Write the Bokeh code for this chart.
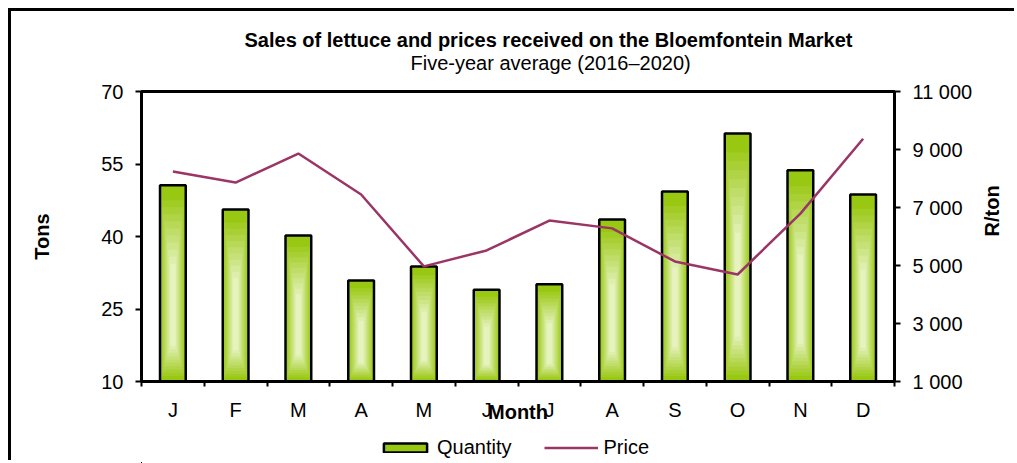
import math
from bokeh.plotting import figure
from bokeh.layouts import column
from bokeh.models import (Range1d, LinearAxis, FixedTicker, Legend, LegendItem, Title)
from bokeh.embed import file_html
from bokeh.resources import INLINE

# ---- data ----
months = ["J", "F", "M", "A", "M", "J", "J", "A", "S", "O", "N", "D"]
quantity = [50.6, 45.6, 40.2, 30.9, 33.8, 29.0, 30.1, 43.5, 49.3, 61.3, 53.7, 48.7]
price = [8240, 7860, 8860, 7450, 4970, 5520, 6550, 6280, 5140, 4690, 6790, 9370]
tons_ticks = [10, 25, 40, 55, 70]
price_ticks = [1000, 3000, 5000, 7000, 9000, 11000]

FONT = "Liberation Sans"
FS = "20px"
W = 1006
H_MAIN = 422
H_LEG = 30
BAR_W = 0.41
YMIN = 10
BAR_COLOR = "#99c812"
LINE_COLOR = "#9b3566"

xs = [i + 0.5 for i in range(len(months))]

p = figure(width=W, height=H_MAIN, x_range=Range1d(0, 12), y_range=Range1d(YMIN, 70),
           output_backend="svg", toolbar_location=None, title=None,
           min_border_left=130, min_border_right=120, min_border_top=80, min_border_bottom=52)
p.background_fill_color = "white"
p.border_fill_color = "white"
p.xgrid.visible = False
p.ygrid.visible = False
p.outline_line_color = "black"
p.outline_line_width = 3

# ---- titles ----
sub = Title(text="Five-year average (2016\u20132020)", align="left", offset=269,
            text_font=FONT, text_font_size=FS, text_font_style="normal",
            text_color="black", standoff=36)
main = Title(text="Sales of lettuce and prices received on the Bloemfontein Market",
             align="left", offset=103, text_font=FONT, text_font_size=FS,
             text_font_style="bold", text_color="black", standoff=-38)
p.add_layout(sub, "above")
p.add_layout(main, "above")

# ---- bars with simulated gradient ----
p.vbar(x=xs, top=quantity, bottom=YMIN, width=BAR_W, fill_color=BAR_COLOR, line_color=None)
K = 10
c0 = (153, 200, 18)
c1 = (230, 243, 190)
for k in range(1, K + 1):
    f = k / K
    col = "#%02x%02x%02x" % tuple(int(c0[i] + (c1[i] - c0[i]) * f) for i in range(3))
    tops = [q - (q - YMIN) * (0.04 + 0.36 * f) for q in quantity]
    bots = [YMIN + (q - YMIN) * (0.01 + 0.17 * f) for q in quantity]
    p.vbar(x=xs, top=tops, bottom=bots, width=BAR_W * (1 - 0.8 * f),
           fill_color=col, line_color=None)
p.vbar(x=xs, top=quantity, bottom=YMIN, width=BAR_W, fill_color=None,
       line_color="black", line_width=2.5)

# ---- price line ----
p.extra_y_ranges = {"price": Range1d(1000, 11000)}
p.line(xs, price, y_range_name="price", line_color=LINE_COLOR, line_width=2.5)


def style_axis(ax):
    ax.axis_line_width = 3
    ax.axis_line_color = "black"
    ax.major_label_text_font = FONT
    ax.major_label_text_font_size = FS
    ax.major_label_text_color = "black"
    ax.major_label_standoff = 12
    ax.axis_label_text_font = FONT
    ax.axis_label_text_font_size = FS
    ax.axis_label_text_font_style = "bold"
    ax.axis_label_text_color = "black"


# ---- axes ----
xa = p.xaxis[0]
style_axis(xa)
xa.ticker = FixedTicker(ticks=xs, minor_ticks=list(range(13)))
xa.major_label_overrides = {x: m for x, m in zip(xs, months)}
xa.major_tick_out = 0
xa.major_tick_in = 0
xa.minor_tick_out = 5
xa.minor_tick_in = 0
xa.minor_tick_line_width = 2
xa.minor_tick_line_color = "black"
xa.axis_label = "Month"
xa.axis_label_standoff = -23

ya = p.yaxis[0]
style_axis(ya)
ya.ticker = FixedTicker(ticks=tons_ticks, minor_ticks=[])
ya.major_tick_out = 6
ya.major_tick_in = 0
ya.major_tick_line_width = 2
ya.axis_label = "Tons"
ya.axis_label_standoff = 45

ra = LinearAxis(y_range_name="price",
                ticker=FixedTicker(ticks=price_ticks, minor_ticks=[]),
                major_label_overrides={t: "{:,}".format(t).replace(",", " ") for t in price_ticks})
style_axis(ra)
ra.major_tick_out = 6
ra.major_tick_in = 0
ra.major_tick_line_width = 2
ra.axis_label = "R/ton"
ra.axis_label_standoff = 17
ra.axis_label_orientation = math.pi / 2
p.add_layout(ra, "right")

# ---- legend strip (separate figure below the chart; its ranges keep its glyphs out of view) ----
lf = figure(width=W, height=H_LEG, x_range=Range1d(20, 40), y_range=Range1d(20000, 40000),
            output_backend="svg", toolbar_location=None, title=None, min_border=0)
lf.axis.visible = False
lf.grid.visible = False
lf.outline_line_color = None
lf.background_fill_color = "white"
lf.border_fill_color = "white"
lq = lf.vbar(x=xs, top=quantity, bottom=YMIN, width=BAR_W, fill_color=BAR_COLOR,
             line_color="black", line_width=2.5)
lp = lf.line(xs, price, line_color=LINE_COLOR, line_width=2.5)
legend = Legend(items=[LegendItem(label="Quantity", renderers=[lq]),
                       LegendItem(label="Price", renderers=[lp])],
                location=(237, 4), orientation="horizontal",
                border_line_color=None, background_fill_alpha=0,
                padding=0, margin=0, spacing=33, glyph_width=54, glyph_height=11,
                label_standoff=5, label_text_font=FONT, label_text_font_size=FS,
                label_text_color="black")
lf.add_layout(legend)

layout = column(p, lf, spacing=0,
                styles={"margin": "11px 0px 0px 11px", "box-shadow": "-3px -3px 0px 0px black"})

open("out.html", "w").write(file_html(layout, INLINE))
